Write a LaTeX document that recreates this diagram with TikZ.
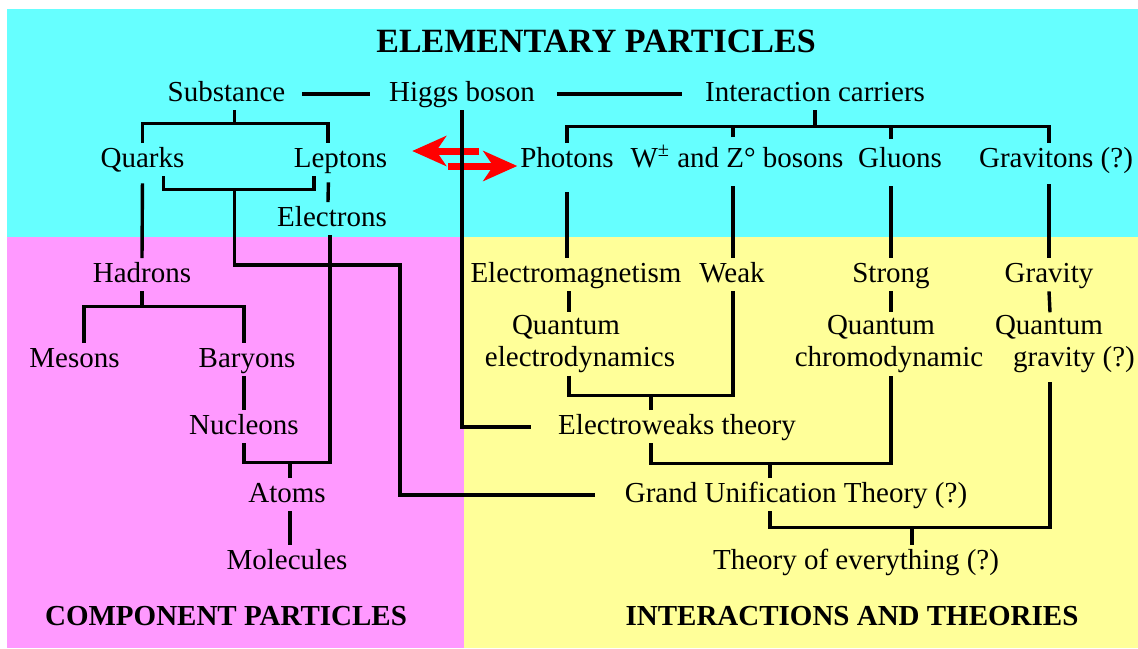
\documentclass[tikz,border=0pt]{standalone}
\usepackage{fontspec}
\setmainfont{Liberation Serif}
\usetikzlibrary{arrows.meta}
\definecolor{skyband}{HTML}{66FFFF}
\definecolor{pinkband}{HTML}{FF99FF}
\definecolor{yellowband}{HTML}{FFFF99}
\tikzset{
  lbl/.style={font=\fontsize{14.5}{16}\selectfont,inner sep=0pt,outer sep=1.5pt,
    text height=10.4pt,text depth=3.2pt,anchor=base},
  twolbl/.style={font=\fontsize{14.5}{16}\selectfont,inner sep=0pt,outer sep=1.5pt,align=center},
  head/.style={font=\bfseries\fontsize{14.5}{16}\selectfont,inner sep=0pt,anchor=base},
  link/.style={line width=1.7pt},
  swaparrow/.style={line width=3.5pt,red,-{Stealth[length=17pt,width=15pt,inset=5pt]}}
}
\begin{document}
\begin{tikzpicture}[x=0.5pt,y=-0.5pt]
  \useasboundingbox (0,0) rectangle (1138,648);
  % three bands
  \fill[skyband] (7,9) rectangle (1138,237);
  \fill[pinkband] (7,237) rectangle (464,648);
  \fill[yellowband] (464,237) rectangle (1138,648);

  \node[font=\bfseries\fontsize{17}{20}\selectfont,inner sep=0pt,anchor=base] (title) at (596,52) {ELEMENTARY PARTICLES};
  \node[head] (compo) at (226,625) {COMPONENT PARTICLES};
  \node[head] (theories) at (852,625) {INTERACTIONS AND THEORIES};

  % component particles
  \node[lbl] (subst) at (226.5,101) {Substance};
  \node[lbl] (higgs) at (462,101) {Higgs boson};
  \node[lbl] (carriers) at (815,101) {Interaction carriers};
  \node[lbl] (quarks) at (142.5,167) {Quarks};
  \node[lbl] (leptons) at (340.5,167) {Leptons};
  \node[lbl] (electrons) at (332,226) {Electrons};
  \node[lbl] (hadrons) at (142,282) {Hadrons};
  \node[lbl] (mesons) at (74.5,367) {Mesons};
  \node[lbl] (baryons) at (247,367) {Baryons};
  \node[lbl] (nucleons) at (244,434) {Nucleons};
  \node[lbl] (atoms) at (287,502) {Atoms};
  \node[lbl] (molecules) at (287,569) {Molecules};

  % carriers and forces
  \foreach \n/\x/\t in {photons/567/Photons,wz/737/{W\textsuperscript{±} and Z° bosons},
      gluons/900/Gluons,gravitons/1056/Gravitons (?)}
    \node[lbl] (\n) at (\x,167) {\t};
  \foreach \n/\x/\t in {em/576/Electromagnetism,weak/732/Weak,strong/891/Strong,gravity/1049/Gravity}
    \node[lbl] (\n) at (\x,282) {\t};
  \node[twolbl] (qed) at (580,344) {Quantum\hspace*{14pt}\\electrodynamics};
  \node[twolbl] (qcd) at (889,344) {Quantum\hspace*{8pt}\\chromodynamic};
  \node[twolbl] (qg) at (1074,344) {Quantum\hspace*{25pt}\\gravity (?)};
  \node[lbl] (ewt) at (677,434) {Electroweaks theory};
  \node[lbl] (gut) at (796,502) {Grand Unification Theory (?)};
  \node[lbl] (toe) at (856,569) {Theory of everything (?)};

  % top row
  \draw[link,shorten <=7pt,shorten >=8pt] (subst.east) -- (higgs.west);
  \draw[link,shorten <=9.5pt,shorten >=10pt] (higgs.east) -- (carriers.west);
  \draw[swaparrow,shorten <=19pt,shorten >=11pt] ([yshift=4.4pt]photons.west) -- ([yshift=4.4pt]leptons.east);
  \draw[swaparrow,shorten <=29pt] ([yshift=-3.1pt]leptons.east) -- ([yshift=-3.1pt]photons.west);

  % substance side
  \draw[link] ([xshift=4pt]subst.south) -- ++(0,13) coordinate (sbar);
  \draw[link] (quarks.north) |- (sbar) -| ([xshift=-6.25pt]leptons.north);
  \draw[link] ([xshift=10.5pt]quarks.south) -- ++(0,13) coordinate (qlbar) -| ([xshift=-13.25pt]leptons.south);
  \draw[link] (sbar |- qlbar) |- (400,265) |- ([xshift=-13.5pt]gut.west);
  \draw[link,shorten <=3.5pt] (quarks.south) -- (hadrons.north);
  \draw[link,shorten <=3pt] ([xshift=-6pt]leptons.south) -- ([xshift=-2pt]electrons.north);
  \draw[link] ([xshift=-1pt]electrons.south) -- ++(0,227) coordinate (eabar) -| (nucleons.south);
  \draw[link] ([xshift=1.5pt]atoms.north) -- ++(0,-16);
  \draw[link] (hadrons.south) -- ++(0,15) coordinate (hbar);
  \draw[link] ([xshift=4.75pt]mesons.north) |- (hbar) -| ([xshift=-1.5pt]baryons.north);
  \draw[link] ([xshift=-1.5pt]baryons.south) -- (nucleons.north);
  \draw[link] ([xshift=1.5pt]atoms.south) -- ([xshift=1.5pt]molecules.north);

  % interaction side
  \draw[link,shorten >=12pt] (higgs.south) |- (ewt.west);
  \draw[link] (carriers.south) -- ++(0,16) coordinate (ibar);
  \draw[link] (photons.north) |- (ibar) -| ([xshift=-3.5pt]gravitons.north);
  \draw[link,shorten <=3pt] ([xshift=-2pt]wz.north) -- ++(0,-17);
  \draw[link,shorten <=2pt] ([xshift=-4.5pt]gluons.north) -- ++(0,-17);
  \draw[link,shorten <=8pt] (photons.south) -- ([xshift=-4.5pt]em.north);
  \draw[link,shorten <=5pt] ([xshift=-2pt]wz.south) -- ([xshift=0.5pt]weak.north);
  \draw[link,shorten <=5pt] ([xshift=-4.5pt]gluons.south) -- (strong.north);
  \draw[link,shorten <=4pt] ([xshift=-3.5pt]gravitons.south) -- (gravity.north);
  \draw[link] ([xshift=-3.5pt]em.south) -- ([xshift=-5.5pt]qed.north);
  \draw[link] (strong.south) -- ([xshift=1pt]qcd.north);
  \draw[link] (gravity.south) -- ([xshift=-12pt]qg.north);
  \draw[link] ([xshift=-5.5pt]qed.south) -- ++(0,20) coordinate (ewbar) -| ([xshift=0.5pt]weak.south);
  \draw[link] ([xshift=-13pt]ewt.north) -- ++(0,-14);
  \draw[link] ([xshift=-13pt]ewt.south) -- ++(0,20) coordinate (gbar) -| ([xshift=1pt]qcd.south);
  \draw[link] ([xshift=-13pt]gut.north) -- ++(0,-15);
  \draw[link,shorten >=3pt] ([xshift=-13pt]gut.south) -- ++(0,16) coordinate (tbar) -| ([xshift=-12pt]qg.south);
  \draw[link] ([xshift=28pt]toe.north) -- ++(0,-18);
\end{tikzpicture}
\end{document}
